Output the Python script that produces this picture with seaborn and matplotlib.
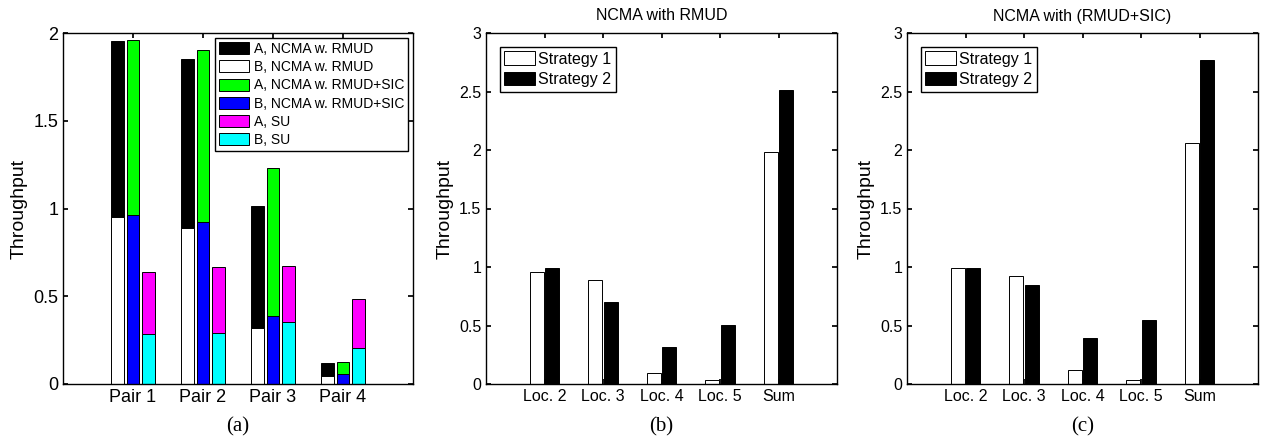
import numpy as np
import pandas as pd
import matplotlib
matplotlib.use("Agg")
import matplotlib.pyplot as plt
from matplotlib.patches import Patch
import seaborn as sns

# ---------------- data ----------------
pairs = ["Pair 1", "Pair 2", "Pair 3", "Pair 4"]
methods = ["NCMA w. RMUD", "NCMA w. RMUD+SIC", "SU"]
a_rmud = [1.002, 0.964, 0.696, 0.072]
b_rmud = [0.950, 0.890, 0.317, 0.048]
a_sic = [0.996, 0.983, 0.840, 0.069]
b_sic = [0.962, 0.922, 0.390, 0.055]
a_su = [0.356, 0.376, 0.321, 0.282]
b_su = [0.285, 0.289, 0.352, 0.203]

locs = ["Loc. 2", "Loc. 3", "Loc. 4", "Loc. 5", "Sum"]
strategies = ["Strategy 1", "Strategy 2"]
rmud_s1 = [0.961, 0.892, 0.097, 0.034, 1.987]
rmud_s2 = [0.989, 0.699, 0.319, 0.505, 2.512]
sic_s1 = [0.992, 0.924, 0.120, 0.034, 2.059]
sic_s2 = [0.992, 0.844, 0.390, 0.547, 2.769]

# ---------------- style ----------------
sns.set_theme(style="ticks")
plt.rcParams["font.family"] = ["Liberation Sans", "DejaVu Sans"]
plt.rcParams["text.color"] = "black"
plt.rcParams["axes.labelcolor"] = "black"
plt.rcParams["xtick.direction"] = "in"
plt.rcParams["ytick.direction"] = "in"
plt.rcParams["xtick.top"] = True
plt.rcParams["ytick.right"] = True
plt.rcParams["axes.linewidth"] = 1.0
plt.rcParams["xtick.major.size"] = 3.5
plt.rcParams["ytick.major.size"] = 3.5
plt.rcParams["xtick.color"] = "black"
plt.rcParams["ytick.color"] = "black"
plt.rcParams["axes.edgecolor"] = "black"

W, H = 1262, 443
fig = plt.figure(figsize=(W / 100, H / 100), dpi=100)

def px_axes(left, right, top, bottom):
    return fig.add_axes([left / W, 1 - bottom / H, (right - left) / W, (bottom - top) / H])

ax_a = px_axes(63, 413, 33, 384)
ax_b = px_axes(486, 837, 33, 384)
ax_c = px_axes(907, 1258, 33, 384)

# ---------------- panel (a) ----------------
xpos = np.arange(1, len(pairs) + 1)
rows_tot, rows_b = [], []
for m, a_vals, b_vals in zip(methods, [a_rmud, a_sic, a_su], [b_rmud, b_sic, b_su]):
    for x, a, b in zip(xpos, a_vals, b_vals):
        rows_tot.append({"x": x, "method": m, "value": a + b})
        rows_b.append({"x": x, "method": m, "value": b})
df_tot = pd.DataFrame(rows_tot)
df_b = pd.DataFrame(rows_b)

pal_a = {"NCMA w. RMUD": "#000000", "NCMA w. RMUD+SIC": "#00ff00", "SU": "#ff00ff"}
pal_b = {"NCMA w. RMUD": "#ffffff", "NCMA w. RMUD+SIC": "#0000ff", "SU": "#00ffff"}

common = dict(x="x", y="value", hue="method", hue_order=methods, native_scale=True,
              width=0.675, gap=0.2, edgecolor="black", linewidth=0.7,
              saturation=1, errorbar=None, legend=False)
sns.barplot(data=df_tot, palette=pal_a, ax=ax_a, **common)
sns.barplot(data=df_b, palette=pal_b, ax=ax_a, **common)

ax_a.set_xlim(0, 5)
ax_a.set_ylim(0, 2)
ax_a.set_xticks(xpos)
ax_a.set_xticklabels(pairs, fontsize=13)
ax_a.set_yticks([0, 0.5, 1, 1.5, 2])
ax_a.set_yticklabels(["0", "0.5", "1", "1.5", "2"], fontsize=13)
ax_a.set_xlabel("")
ax_a.set_ylabel("Throughput", fontsize=14)

leg_labels = ["A, NCMA w. RMUD", "B, NCMA w. RMUD", "A, NCMA w. RMUD+SIC",
              "B, NCMA w. RMUD+SIC", "A, SU", "B, SU"]
leg_colors = ["#000000", "#ffffff", "#00ff00", "#0000ff", "#ff00ff", "#00ffff"]
handles = [Patch(facecolor=c, edgecolor="black", linewidth=0.7) for c in leg_colors]
leg = ax_a.legend(handles, leg_labels, loc="upper right", fontsize=10,
                  frameon=True, fancybox=False, framealpha=1, edgecolor="black",
                  handlelength=2.2, handleheight=0.95, handletextpad=0.3,
                  labelspacing=0.3, borderpad=0.3, borderaxespad=0.35)
leg.get_frame().set_linewidth(1.0)

# ---------------- panels (b), (c) ----------------
xl = np.arange(1, len(locs) + 1)
pal_s = {"Strategy 1": "#ffffff", "Strategy 2": "#000000"}

def strat_panel(ax, s1, s2, title):
    rows = []
    for s, vals in zip(strategies, [s1, s2]):
        for x, v in zip(xl, vals):
            rows.append({"x": x, "strategy": s, "value": v})
    df = pd.DataFrame(rows)
    sns.barplot(data=df, x="x", y="value", hue="strategy", hue_order=strategies,
                palette=pal_s, native_scale=True, width=0.534, gap=0.1,
                edgecolor="black", linewidth=0.7, saturation=1, errorbar=None,
                legend=False, ax=ax)
    ax.set_xlim(0, 6)
    ax.set_ylim(0, 3)
    ax.set_xticks(xl)
    ax.set_xticklabels(locs, fontsize=11.5)
    ax.set_yticks([0, 0.5, 1, 1.5, 2, 2.5, 3])
    ax.set_yticklabels(["0", "0.5", "1", "1.5", "2", "2.5", "3"], fontsize=11.5)
    ax.set_xlabel("")
    ax.set_ylabel("Throughput", fontsize=14)
    ax.set_title(title, fontsize=11.5, pad=9, color="black")
    hs = [Patch(facecolor=pal_s[s], edgecolor="black", linewidth=0.7) for s in strategies]
    lg = ax.legend(hs, strategies, loc="upper left", fontsize=11.5,
                   frameon=True, fancybox=False, framealpha=1, edgecolor="black",
                   handlelength=1.9, handleheight=0.95, handletextpad=0.2,
                   labelspacing=0.3, borderpad=0.3, borderaxespad=0.85)
    lg.get_frame().set_linewidth(1.0)

strat_panel(ax_b, rmud_s1, rmud_s2, "NCMA with RMUD")
strat_panel(ax_c, sic_s1, sic_s2, "NCMA with (RMUD+SIC)")

# captions
for ax, cap in zip([ax_a, ax_b, ax_c], ["(a)", "(b)", "(c)"]):
    bb = ax.get_position()
    fig.text((bb.x0 + bb.x1) / 2, 1 - 427 / H, cap, ha="center", va="center",
             fontsize=15, color="black", family=["Liberation Serif", "DejaVu Serif"])

fig.savefig("out.png", dpi=100)
